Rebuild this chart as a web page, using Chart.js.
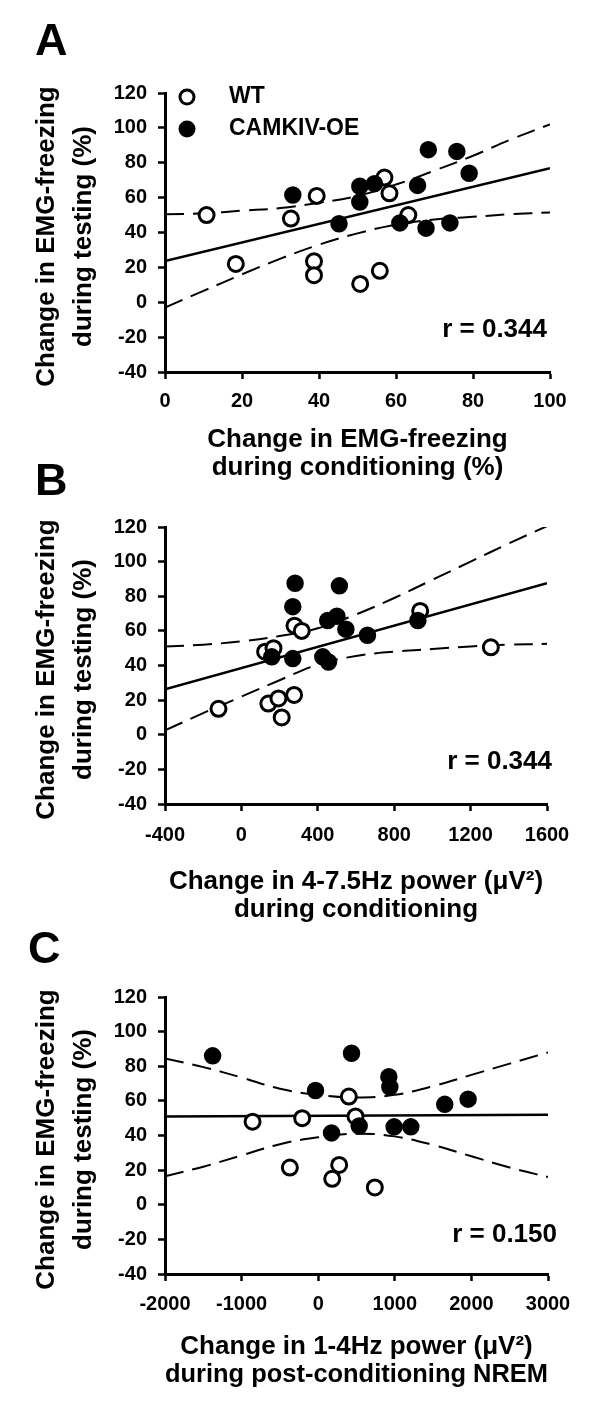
<!DOCTYPE html>
<html>
<head>
<meta charset="utf-8">
<script src="https://cdn.jsdelivr.net/npm/chart.js@4.4.1/dist/chart.umd.min.js"></script>
<style>
  html, body { margin: 0; padding: 0; background: #fff; }
  body { width: 600px; height: 1407px; position: relative; overflow: hidden; }
  .panel { position: absolute; left: 0; width: 600px; }
</style>
</head>
<body>
<div class="panel" style="top:0px"><canvas id="chartA" width="600" height="490"></canvas></div>
<div class="panel" style="top:460px"><canvas id="chartB" width="600" height="480"></canvas></div>
<div class="panel" style="top:920px"><canvas id="chartC" width="600" height="487"></canvas></div>
<script>
// shared y axis
const yTicks = [-40, -20, 0, 20, 40, 60, 80, 100, 120];
const yTitle = ['Change in EMG-freezing', 'during testing (%)'];

// panel A: freezing during conditioning
const aTicks = [0, 20, 40, 60, 80, 100];
const aWtX = [10.8, 18.4, 32.7, 39.4, 38.7, 38.7, 50.7, 55.8, 57, 58.3, 63.2];
const aWtY = [50, 22, 48, 61, 23.5, 15.5, 10.5, 18, 71.5, 62.5, 50];
const aOeX = [33.2, 45.2, 50.6, 50.6, 54.4, 65.6, 68.4, 75.8, 79, 61, 67.8, 74];
const aOeY = [61.5, 45, 66.5, 57.5, 68, 67, 87.5, 86.5, 74, 45.5, 42.5, 45.5];
const aFitX = [0, 100];
const aFitY = [23.6, 76.9];
const aBandX = [0, 10, 20, 30, 40, 50, 60, 70, 80, 90, 100];
const aBandUp = [50.5, 51, 52.5, 54, 57, 61, 67.5, 75.5, 84, 93.5, 102];
const aBandLo = [-3, 6.5, 16, 25, 33, 39.5, 44.5, 47.5, 49, 50.5, 51.5];

// panel B: 4-7.5Hz power during conditioning
const bTicks = [-400, 0, 400, 800, 1200, 1600];
const bWtX = [-120, 124, 168, 141, 194, 211, 276, 278, 316, 936, 1306];
const bWtY = [15, 48, 50, 18, 21, 10, 23, 63, 60, 71.5, 50.5];
const bOeX = [281, 269, 159, 269, 426, 456, 452, 500, 513, 547, 660, 924];
const bOeY = [87.5, 74, 45, 44, 45, 42, 66, 68.5, 86, 61, 57.5, 66];
const bFitX = [-400, 1600];
const bFitY = [26.3, 87.6];
const bBandX = [-400, -200, 0, 200, 400, 600, 800, 1000, 1200, 1400, 1600];
const bBandUp = [51, 52, 54, 57, 61.5, 69.5, 79, 89.5, 100, 110.5, 120.5];
const bBandLo = [2.5, 12.5, 22, 31.5, 40.5, 45.5, 48, 49.5, 51, 52, 52.5];

// panel C: 1-4Hz power during post-conditioning NREM
const cTicks = [-2000, -1000, 0, 1000, 2000, 3000];
const cWtX = [-857, -209, 400, 487, -370, 274, 183, 739];
const cWtY = [48, 50, 62.5, 51, 21.5, 23, 15, 10];
const cOeX = [-1378, 435, -35, 922, 935, 174, 535, 991, 1209, 1652, 1957];
const cOeY = [86, 87.5, 66, 74, 68, 41.5, 45.5, 45, 45, 58, 61];
const cFitX = [-2000, 3000];
const cFitY = [51, 52];
const cBandX = [-2000, -1500, -1000, -500, 0, 500, 1000, 1500, 2000, 2500, 3000];
const cBandUp = [84.5, 79.5, 73.5, 67, 63.5, 62, 63.5, 68.5, 75, 81.5, 88];
const cBandLo = [16.5, 22, 28.5, 35, 39, 41, 39.5, 34.5, 28, 21.5, 16];

Chart.defaults.font.family = '"Liberation Sans", Arial, sans-serif';
Chart.defaults.font.weight = 'bold';
Chart.defaults.color = '#000';

const FONT = '"Liberation Sans", Arial, sans-serif';

function pts(xs, ys) {
  return xs.map((x, i) => ({x: x, y: ys[i]}));
}

// letter, y title, r value and legend drawn on top of each panel
const panelDeco = {
  id: 'panelDeco',
  afterDraw(chart, args, o) {
    const ctx = chart.ctx;
    const area = chart.chartArea;
    ctx.save();
    ctx.fillStyle = '#000';

    ctx.font = 'bold 45px ' + FONT;
    ctx.textAlign = 'left';
    ctx.textBaseline = 'alphabetic';
    ctx.fillText(o.letter, o.letterX, o.letterY);

    // y axis title, two rotated lines
    ctx.save();
    ctx.translate(0, (area.top + area.bottom) / 2 + o.yTitleShift);
    ctx.rotate(-Math.PI / 2);
    ctx.font = 'bold 26px ' + FONT;
    ctx.textAlign = 'center';
    ctx.fillText(yTitle[0], 0, 54);
    ctx.fillText(yTitle[1], 0, 91);
    ctx.restore();

    ctx.font = 'bold 26px ' + FONT;
    ctx.textAlign = 'right';
    ctx.textBaseline = 'middle';
    ctx.fillText(o.rText, o.rX, o.rY);

    if (o.legend) {
      const items = [chart.data.datasets[1], chart.data.datasets[0]];
      items.forEach((ds, i) => {
        const y = 97 + i * 32;
        ctx.beginPath();
        ctx.arc(187, y, 7, 0, Math.PI * 2);
        ctx.fillStyle = ds.pointBackgroundColor;
        ctx.fill();
        ctx.lineWidth = 3;
        ctx.strokeStyle = '#000';
        ctx.stroke();
        ctx.fillStyle = '#000';
        ctx.font = 'bold 23px ' + FONT;
        ctx.textAlign = 'left';
        ctx.fillText(ds.label, 229, y);
      });
    }
    ctx.restore();
  }
};

function makePanel(id, d) {
  const canvas = document.getElementById(id);
  const H = canvas.height;
  return new Chart(canvas, {
    type: 'scatter',
    data: {
      datasets: [
        {
          label: 'CAMKIV-OE',
          data: pts(d.oeX, d.oeY),
          order: 0,
          pointRadius: 7.5,
          pointBorderWidth: 2.5,
          pointBackgroundColor: '#000',
          pointBorderColor: '#000'
        },
        {
          label: 'WT',
          data: pts(d.wtX, d.wtY),
          order: 1,
          pointRadius: 7.5,
          pointBorderWidth: 3,
          pointBackgroundColor: '#fff',
          pointBorderColor: '#000'
        },
        {
          label: 'fit',
          data: pts(d.fitX, d.fitY),
          order: 2,
          showLine: true,
          borderColor: '#000',
          borderWidth: 2.5,
          pointRadius: 0
        },
        {
          label: 'upper 95%',
          data: pts(d.bandX, d.bandUp),
          order: 2,
          showLine: true,
          borderColor: '#000',
          borderWidth: 2,
          borderDash: [19, 9],
          tension: 0.4,
          pointRadius: 0
        },
        {
          label: 'lower 95%',
          data: pts(d.bandX, d.bandLo),
          order: 2,
          showLine: true,
          borderColor: '#000',
          borderWidth: 2,
          borderDash: [19, 9],
          tension: 0.4,
          pointRadius: 0
        }
      ]
    },
    options: {
      responsive: false,
      devicePixelRatio: 1,
      animation: false,
      events: [],
      layout: {
        padding: { top: d.top, left: 0, right: 600 - d.right, bottom: 0 }
      },
      scales: {
        x: {
          type: 'linear',
          min: d.ticks[0],
          max: d.ticks[d.ticks.length - 1],
          afterBuildTicks: (s) => { s.ticks = d.ticks.map(v => ({value: v})); },
          afterFit: (s) => { s.height = H - d.bottom; },
          grid: {
            display: true,
            drawOnChartArea: false,
            tickLength: 7,
            tickWidth: 2.5,
            tickColor: '#000'
          },
          border: { display: true, color: '#000', width: 3 },
          ticks: {
            padding: d.tickPad,
            maxRotation: 0,
            font: { size: 20, weight: 'bold' },
            color: '#000',
            callback: (v) => String(v)
          },
          title: {
            display: true,
            text: d.xTitle,
            color: '#000',
            font: { size: 26, weight: 'bold', lineHeight: '28px' },
            padding: { top: 0, bottom: d.titlePad }
          }
        },
        y: {
          type: 'linear',
          min: -40,
          max: 120,
          afterBuildTicks: (s) => { s.ticks = yTicks.map(v => ({value: v})); },
          afterFit: (s) => { s.width = d.left; },
          grid: {
            display: true,
            drawOnChartArea: false,
            tickLength: 7,
            tickWidth: 2.5,
            tickColor: '#000'
          },
          border: { display: true, color: '#000', width: 3 },
          ticks: {
            padding: 11,
            font: { size: 20, weight: 'bold' },
            color: '#000',
            callback: (v) => String(v)
          }
        }
      },
      plugins: {
        legend: { display: false },
        tooltip: { enabled: false },
        panelDeco: d.deco
      }
    },
    plugins: [panelDeco]
  });
}

makePanel('chartA', {
  wtX: aWtX, wtY: aWtY, oeX: aOeX, oeY: aOeY,
  fitX: aFitX, fitY: aFitY, bandX: aBandX, bandUp: aBandUp, bandLo: aBandLo,
  ticks: aTicks,
  xTitle: ['Change in EMG-freezing', 'during conditioning (%)'],
  top: 93, bottom: 372, left: 165, right: 550, tickPad: 10, titlePad: 8,
  deco: { letter: 'A', letterX: 35, letterY: 55, rText: 'r = 0.344', rX: 547, rY: 330, legend: true, yTitleShift: 4 }
});

makePanel('chartB', {
  wtX: bWtX, wtY: bWtY, oeX: bOeX, oeY: bOeY,
  fitX: bFitX, fitY: bFitY, bandX: bBandX, bandUp: bBandUp, bandLo: bBandLo,
  ticks: bTicks,
  xTitle: ['Change in 4-7.5Hz power (\u03BCV\u00B2)', 'during conditioning'],
  top: 67, bottom: 344, left: 165, right: 547, tickPad: 12, titlePad: 16,
  deco: { letter: 'B', letterX: 35, letterY: 35, rText: 'r = 0.344', rX: 552, rY: 302, legend: false, yTitleShift: 4 }
});

makePanel('chartC', {
  wtX: cWtX, wtY: cWtY, oeX: cOeX, oeY: cOeY,
  fitX: cFitX, fitY: cFitY, bandX: cBandX, bandUp: cBandUp, bandLo: cBandLo,
  ticks: cTicks,
  xTitle: ['Change in 1-4Hz power (\u03BCV\u00B2)', 'during post-conditioning NREM'],
  top: 77, bottom: 354, left: 165, right: 548, tickPad: 11, titlePad: 18,
  deco: { letter: 'C', letterX: 28, letterY: 43, rText: 'r = 0.150', rX: 557, rY: 315, legend: false, yTitleShift: 4 }
});
</script>
</body>
</html>
